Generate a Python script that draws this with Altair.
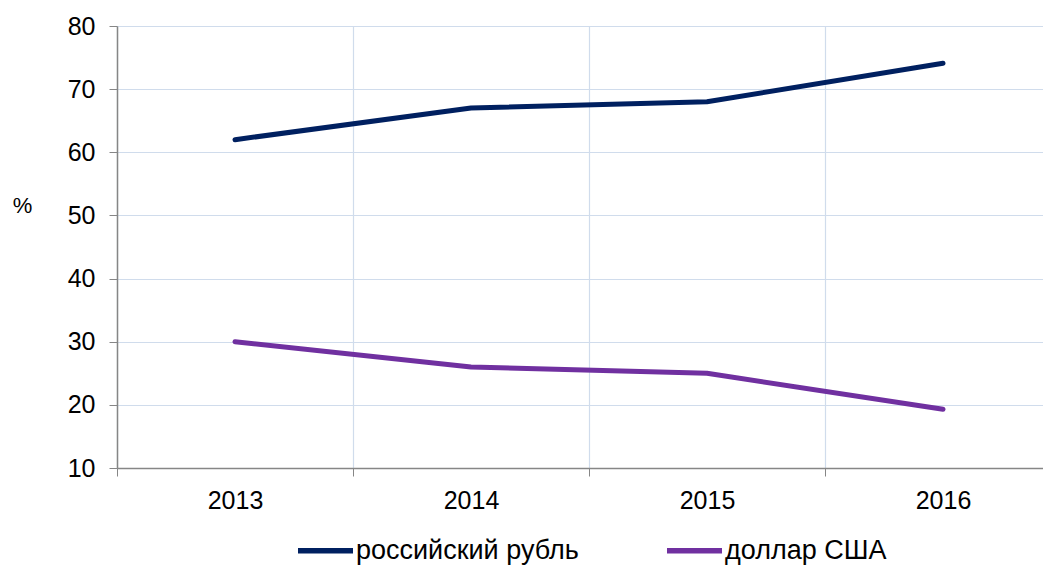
import altair as alt
import pandas as pd

years = ["2013", "2014", "2015", "2016"]
rub = [62.0, 67.0, 68.0, 74.1]
usd = [30.0, 26.0, 25.0, 19.3]
series_names = ["российский рубль", "доллар США"]
series_colors = ["#002060", "#7030a0"]

rows = []
for y, v in zip(years, rub):
    rows.append({"year": y, "value": v, "series": series_names[0]})
for y, v in zip(years, usd):
    rows.append({"year": y, "value": v, "series": series_names[1]})
df = pd.DataFrame(rows)

FONT = "Liberation Sans"
GRID = "#d0dcec"
AXIS = "#868686"
FS = 25

chart = alt.Chart(df).mark_line(
    strokeWidth=5, interpolate="linear", strokeCap="round", strokeJoin="round"
).encode(
    x=alt.X(
        "year:O",
        bandPosition=0.5,
        scale=alt.Scale(type="band", paddingInner=0, paddingOuter=0, range=[0, 944]),
        axis=alt.Axis(
            title=None, tickBand="extent", labelAngle=0, labelFontSize=FS, labelFont=FONT,
            labelColor="#000000", labelPadding=12, tickSize=8, tickColor=AXIS, domainColor=AXIS,
            domainWidth=1.5, grid=True, gridColor=GRID, gridWidth=1.2,
        ),
    ),
    y=alt.Y(
        "value:Q",
        scale=alt.Scale(domain=[10, 80], nice=False, zero=False),
        axis=alt.Axis(
            title="%", titleAngle=0, titleX=-95, titleY=179, titleAlign="center",
            titleBaseline="middle", titleFontSize=22, titleFont=FONT, titleFontWeight="normal",
            titleColor="#000000", values=[10, 20, 30, 40, 50, 60, 70, 80],
            labelFontSize=FS, labelFont=FONT, labelColor="#000000", labelPadding=14,
            tickSize=8, tickColor=AXIS, domainColor=AXIS, domainWidth=1.5,
            grid=True, gridColor=GRID, gridWidth=1.2,
        ),
    ),
    color=alt.Color(
        "series:N",
        sort=series_names,
        scale=alt.Scale(domain=series_names, range=series_colors),
        legend=alt.Legend(
            title=None, orient="none", legendX=178, legendY=494, direction="horizontal",
            symbolType="stroke", symbolStrokeWidth=5.5, symbolSize=3025,
            labelFontSize=27, labelFont=FONT, labelColor="#000000", labelOffset=0,
            padding=0, columnPadding=77, labelLimit=0,
        ),
    ),
).properties(
    width=926,
    height=442,
    autosize=alt.AutoSizeParams(type="none"),
    padding={"left": 109, "top": 18, "right": 0, "bottom": 97},
).configure_view(stroke=None)

chart.save("out.html", embed_options={"renderer": "svg", "actions": False})
